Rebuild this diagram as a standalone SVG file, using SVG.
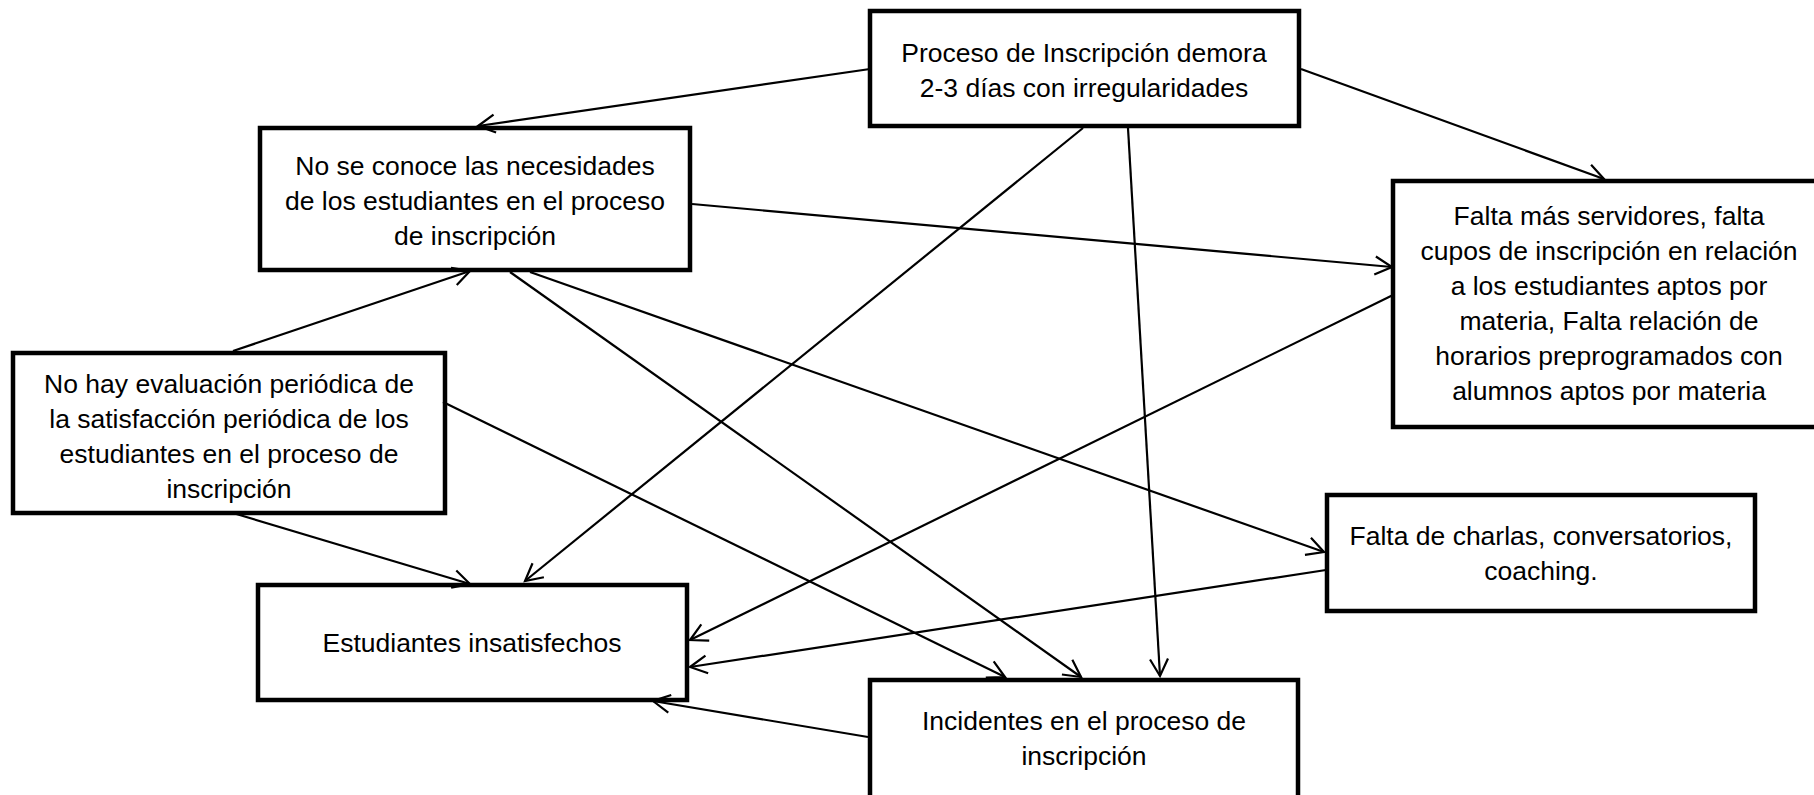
<svg xmlns="http://www.w3.org/2000/svg" width="1814" height="795" viewBox="0 0 1814 795">
<style>
.box{fill:#fff;stroke:#000;stroke-width:4.5}
.t{font-family:"Liberation Sans",Arial,sans-serif;font-size:26.5px;fill:#000;text-anchor:middle}
.c{stroke:#000;stroke-width:2.2;fill:none;marker-end:url(#arr)}
</style>
<defs>
<marker id="arr" markerUnits="userSpaceOnUse" markerWidth="24" markerHeight="24" viewBox="-20 -12 24 24" refX="0" refY="0" orient="auto">
<path d="M-17,-9 L0,0 L-17,9" fill="none" stroke="#000" stroke-width="2.2"/>
</marker>
<clipPath id="clip4"><rect x="15" y="355" width="428" height="156"/></clipPath>
</defs>
<rect width="1814" height="795" fill="#fff"/>
<g id="n1"><rect class="box" x="870" y="11" width="429" height="115"/>
<text class="t" x="1084" y="62">Proceso de Inscripción demora</text>
<text class="t" x="1084" y="97">2-3 días con irregularidades</text></g>
<g id="n2"><rect class="box" x="260" y="128" width="430" height="142"/>
<text class="t" x="475" y="175">No se conoce las necesidades</text>
<text class="t" x="475" y="210">de los estudiantes en el proceso</text>
<text class="t" x="475" y="245">de inscripción</text></g>
<g id="n3"><rect class="box" x="1393" y="181" width="440" height="246"/>
<text class="t" x="1609" y="225">Falta más servidores, falta</text>
<text class="t" x="1609" y="260">cupos de inscripción en relación</text>
<text class="t" x="1609" y="295">a los estudiantes aptos por</text>
<text class="t" x="1609" y="330">materia, Falta relación de</text>
<text class="t" x="1609" y="365">horarios preprogramados con</text>
<text class="t" x="1609" y="400">alumnos aptos por materia</text></g>
<g id="n4"><rect x="13" y="353" width="432" height="160" fill="#fff"/>
<g clip-path="url(#clip4)">
<text class="t" x="229" y="393">No hay evaluación periódica de</text>
<text class="t" x="229" y="428">la satisfacción periódica de los</text>
<text class="t" x="229" y="463">estudiantes en el proceso de</text>
<text class="t" x="229" y="498">inscripción</text></g>
<rect x="13" y="353" width="432" height="160" fill="none" stroke="#000" stroke-width="4.5"/></g>
<g id="n5"><rect class="box" x="1327" y="495" width="428" height="116"/>
<text class="t" x="1541" y="545">Falta de charlas, conversatorios,</text>
<text class="t" x="1541" y="580">coaching.</text></g>
<g id="n6"><rect class="box" x="258" y="585" width="429" height="115"/>
<text class="t" x="472" y="652">Estudiantes insatisfechos</text></g>
<g id="n7"><rect class="box" x="870" y="680" width="428" height="130"/>
<text class="t" x="1084" y="730">Incidentes en el proceso de</text>
<text class="t" x="1084" y="765">inscripción</text></g>
<g id="connectors">
<line class="c" x1="870" y1="69" x2="478" y2="126"/>
<line class="c" x1="1301" y1="69" x2="1604" y2="179"/>
<line class="c" x1="1083" y1="128" x2="525" y2="581"/>
<line class="c" x1="1128" y1="128" x2="1160" y2="676"/>
<line class="c" x1="692" y1="204" x2="1392" y2="267"/>
<line class="c" x1="233" y1="351" x2="470" y2="271"/>
<line class="c" x1="510" y1="272" x2="1081" y2="677"/>
<line class="c" x1="530" y1="272" x2="1324" y2="552"/>
<line class="c" x1="443" y1="402" x2="1005" y2="677"/>
<line class="c" x1="233" y1="513" x2="470" y2="584"/>
<line class="c" x1="1393" y1="295" x2="690" y2="640"/>
<line class="c" x1="1326" y1="570" x2="690" y2="667"/>
<line class="c" x1="868" y1="737" x2="653" y2="701"/>
</g>
</svg>
